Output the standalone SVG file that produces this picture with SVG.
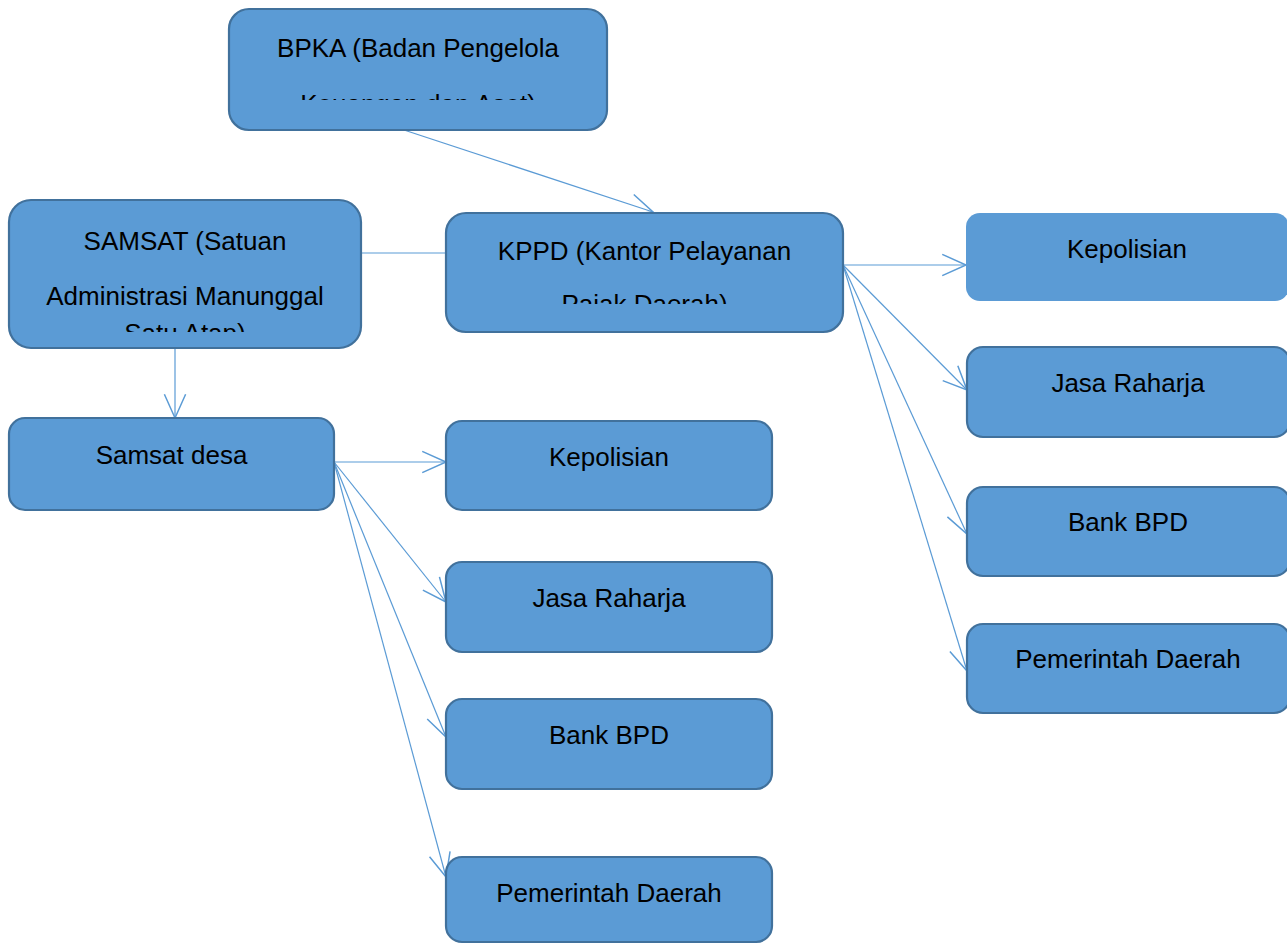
<svg xmlns="http://www.w3.org/2000/svg" width="1287" height="944" viewBox="0 0 1287 944">
<style>
.box{fill:#5b9bd5;stroke:#41719c;stroke-width:2.2}
.nob{fill:#5b9bd5;stroke:none}
.t{font-family:"Liberation Sans",Arial,sans-serif;font-size:26px;fill:#000;text-anchor:middle}
.c{stroke:#5b9bd5;stroke-width:1.2;fill:none}
</style>
<defs>
<marker id="arr" markerUnits="userSpaceOnUse" markerWidth="30" markerHeight="30" viewBox="-22 -11 24 22" refX="0" refY="0" orient="auto">
<path d="M-19,-8.5 L0,0 L-19,8.5" fill="none" stroke="#5b9bd5" stroke-width="1.2"/>
</marker>
<clipPath id="cBPKA"><rect x="229" y="9" width="378" height="91"/></clipPath>
<clipPath id="cKPPD"><rect x="446" y="213" width="397" height="91"/></clipPath>
<clipPath id="cSAMSAT"><rect x="9" y="200" width="352" height="132"/></clipPath>
</defs>
<rect width="1287" height="944" fill="#fff"/>
<g id="connectors">
<line class="c" x1="404" y1="130" x2="653" y2="212" marker-end="url(#arr)"/>
<line class="c" x1="361" y1="253" x2="446" y2="253"/>
<line class="c" x1="175" y1="348" x2="175" y2="418" marker-end="url(#arr)"/>
<line class="c" x1="334" y1="462" x2="446" y2="462" marker-end="url(#arr)"/>
<line class="c" x1="334" y1="462" x2="446" y2="602" marker-end="url(#arr)"/>
<line class="c" x1="334" y1="462" x2="446" y2="737" marker-end="url(#arr)"/>
<line class="c" x1="334" y1="462" x2="446" y2="877" marker-end="url(#arr)"/>
<line class="c" x1="843" y1="265" x2="966" y2="265" marker-end="url(#arr)"/>
<line class="c" x1="843" y1="265" x2="967" y2="390" marker-end="url(#arr)"/>
<line class="c" x1="843" y1="265" x2="967" y2="534" marker-end="url(#arr)"/>
<line class="c" x1="843" y1="265" x2="967" y2="671" marker-end="url(#arr)"/>
</g>
<g id="bpka">
<rect class="box" x="229" y="9" width="378" height="121" rx="20"/>
<g clip-path="url(#cBPKA)">
<text class="t" x="418" y="57">BPKA (Badan Pengelola</text>
<text class="t" x="418" y="113">Keuangan dan Aset)</text>
</g>
</g>
<g id="samsat">
<rect class="box" x="9" y="200" width="352" height="148" rx="22"/>
<g clip-path="url(#cSAMSAT)">
<text class="t" x="185" y="250">SAMSAT (Satuan</text>
<text class="t" x="185" y="305">Administrasi Manunggal</text>
<text class="t" x="185" y="342">Satu Atap)</text>
</g>
</g>
<g id="kppd">
<rect class="box" x="446" y="213" width="397" height="119" rx="20"/>
<g clip-path="url(#cKPPD)">
<text class="t" x="644.5" y="260">KPPD (Kantor Pelayanan</text>
<text class="t" x="644.5" y="313">Pajak Daerah)</text>
</g>
</g>
<g id="kepolisian-kanan">
<rect class="nob" x="966" y="213" width="323" height="88" rx="14"/>
<text class="t" x="1127" y="258">Kepolisian</text>
</g>
<g id="jasa-kanan">
<rect class="box" x="967" y="347" width="323" height="90" rx="16"/>
<text class="t" x="1128" y="392">Jasa Raharja</text>
</g>
<g id="bank-kanan">
<rect class="box" x="967" y="487" width="323" height="89" rx="16"/>
<text class="t" x="1128" y="531">Bank BPD</text>
</g>
<g id="pemda-kanan">
<rect class="box" x="967" y="624" width="323" height="89" rx="16"/>
<text class="t" x="1128" y="668">Pemerintah Daerah</text>
</g>
<g id="samsat-desa">
<rect class="box" x="9" y="418" width="325" height="92" rx="16"/>
<text class="t" x="171.5" y="464">Samsat desa</text>
</g>
<g id="kepolisian-tengah">
<rect class="box" x="446" y="421" width="326" height="89" rx="16"/>
<text class="t" x="609" y="466">Kepolisian</text>
</g>
<g id="jasa-tengah">
<rect class="box" x="446" y="562" width="326" height="90" rx="16"/>
<text class="t" x="609" y="607">Jasa Raharja</text>
</g>
<g id="bank-tengah">
<rect class="box" x="446" y="699" width="326" height="90" rx="16"/>
<text class="t" x="609" y="744">Bank BPD</text>
</g>
<g id="pemda-tengah">
<rect class="box" x="446" y="857" width="326" height="85" rx="16"/>
<text class="t" x="609" y="902">Pemerintah Daerah</text>
</g>
</svg>
